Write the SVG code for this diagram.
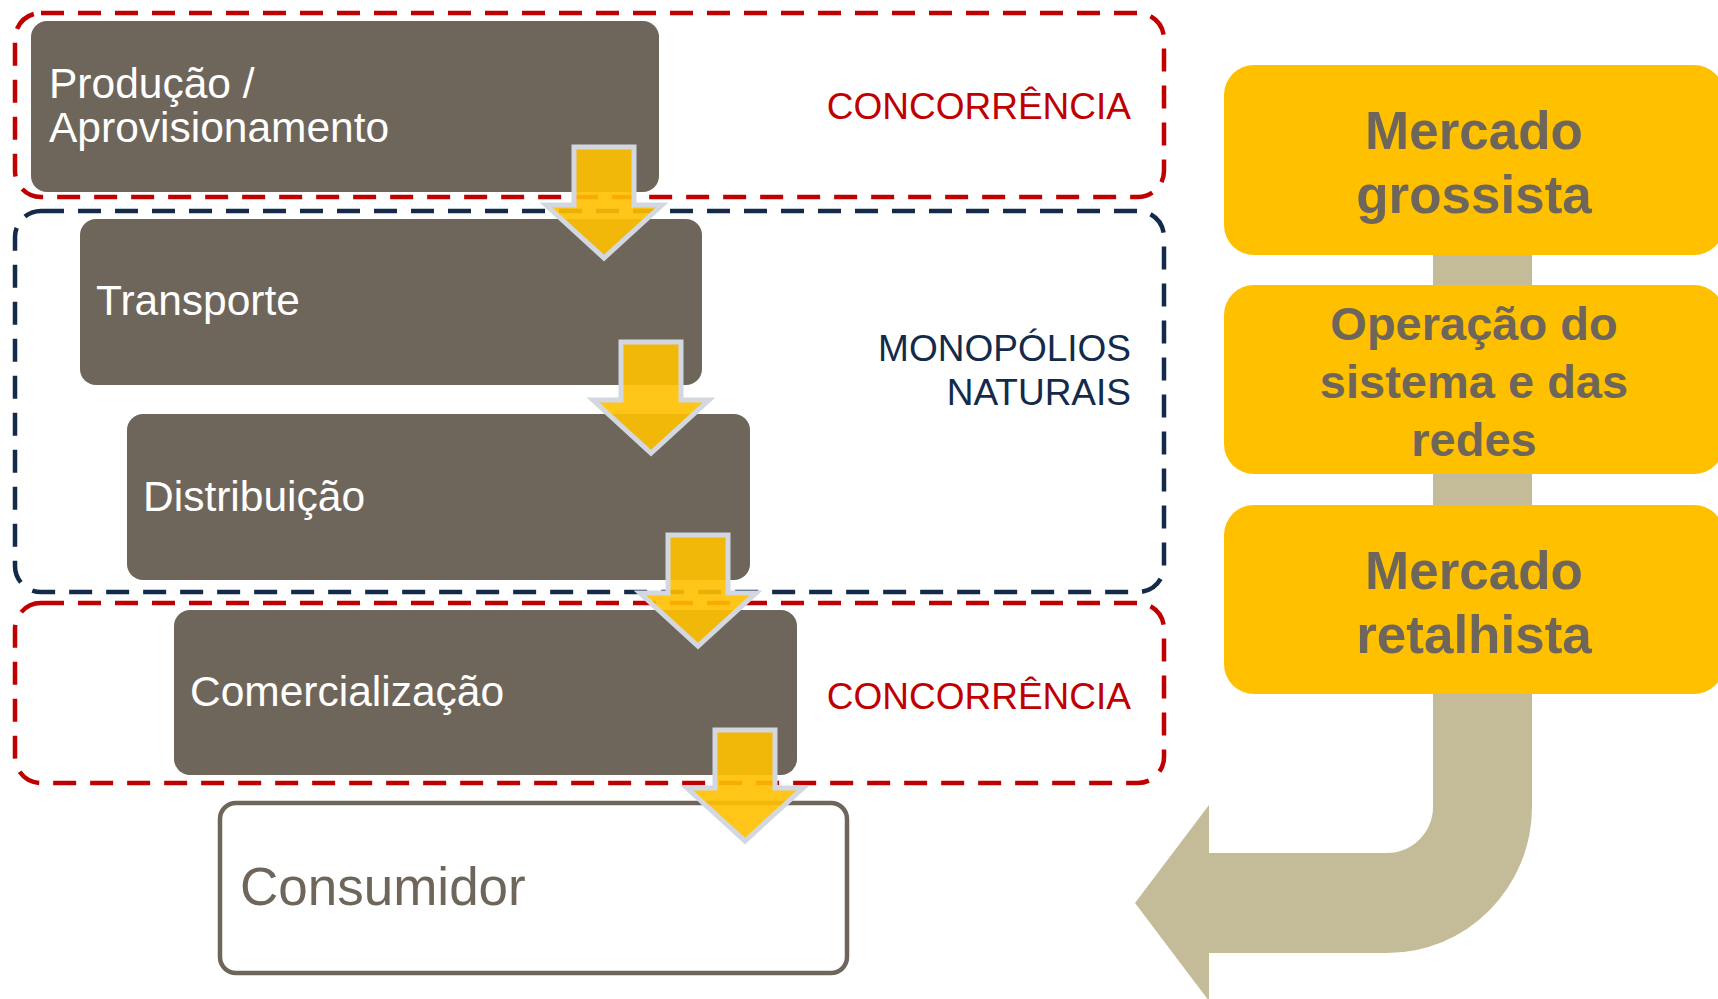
<svg xmlns="http://www.w3.org/2000/svg" width="1718" height="999" viewBox="0 0 1718 999">
<style>
.zone{fill:none;stroke-width:4.5;stroke-dasharray:23 14}
.red{stroke:#c00000}
.navy{stroke:#132a4a}
.step{fill:#6f665b}
.steptxt{font-family:"Liberation Sans",Arial,sans-serif;font-size:42.5px;fill:#ffffff}
.zonetxt{font-family:"Liberation Sans",Arial,sans-serif;font-size:37px;text-anchor:end}
.mk{fill:#ffc000}
.mktxt{font-family:"Liberation Sans",Arial,sans-serif;font-weight:bold;fill:#6f665b;text-anchor:middle}
.arr{fill:#ffc000;fill-opacity:0.9;stroke:#d3d8e0;stroke-width:5;stroke-linejoin:miter}
</style>
<defs>
<path id="down" d="M-30,-113 L30,-113 L30,-55 L58,-55 L0,-2 L-58,-55 L-30,-55 Z"/>
</defs>
<rect width="1718" height="999" fill="#ffffff"/>

<g id="zones">
<rect id="zone-concorrencia-1" class="zone red" x="15" y="13" width="1149" height="184" rx="26"/>
<rect id="zone-monopolios" class="zone navy" x="15" y="211" width="1149" height="381" rx="26"/>
<rect id="zone-concorrencia-2" class="zone red" x="15" y="603" width="1149" height="180" rx="26"/>
<text class="zonetxt" x="1131" y="119" fill="#c00000">CONCORRÊNCIA</text>
<text class="zonetxt" x="1131" y="361" fill="#132a4a">MONOPÓLIOS</text>
<text class="zonetxt" x="1131" y="405" fill="#132a4a">NATURAIS</text>
<text class="zonetxt" x="1131" y="709" fill="#c00000">CONCORRÊNCIA</text>
</g>

<g id="node-producao">
<rect class="step" x="31" y="21" width="628" height="171" rx="16"/>
<text class="steptxt" x="49" y="98">Produção /</text>
<text class="steptxt" x="49" y="142">Aprovisionamento</text>
</g>
<g id="node-transporte">
<rect class="step" x="80" y="219" width="622" height="166" rx="16"/>
<text class="steptxt" x="96" y="315">Transporte</text>
</g>
<g id="node-distribuicao">
<rect class="step" x="127" y="414" width="623" height="166" rx="16"/>
<text class="steptxt" x="143" y="511">Distribuição</text>
</g>
<g id="node-comercializacao">
<rect class="step" x="174" y="610" width="623" height="165" rx="16"/>
<text class="steptxt" x="190" y="706">Comercialização</text>
</g>
<g id="node-consumidor">
<rect x="220" y="803" width="627" height="170" rx="16" fill="#ffffff" stroke="#6f665b" stroke-width="4.5"/>
<text x="240" y="905" font-family="&quot;Liberation Sans&quot;, Arial, sans-serif" font-size="53" fill="#6f665b">Consumidor</text>
</g>

<g id="connectors">
<use href="#down" class="arr" transform="translate(604,260)"/>
<use href="#down" class="arr" transform="translate(651,455)"/>
<use href="#down" class="arr" transform="translate(698,648)"/>
<use href="#down" class="arr" transform="translate(745,843)"/>
<path id="bent-arrow" fill="#c4bc98" d="M1433,250 L1433,807 A46,46 0 0 1 1387,853 L1209,853 L1209,805 L1135,903 L1209,1001 L1209,953 L1387,953 A145,146 0 0 0 1532,807 L1532,250 Z"/>
</g>

<g id="node-mercado-grossista">
<rect class="mk" x="1224" y="65" width="500" height="190" rx="30"/>
<text class="mktxt" font-size="53" x="1474" y="149">Mercado</text>
<text class="mktxt" font-size="53" x="1474" y="213">grossista</text>
</g>
<g id="node-operacao">
<rect class="mk" x="1224" y="285" width="500" height="189" rx="30"/>
<text class="mktxt" font-size="47" x="1474" y="340">Operação do</text>
<text class="mktxt" font-size="47" x="1474" y="398">sistema e das</text>
<text class="mktxt" font-size="47" x="1474" y="456">redes</text>
</g>
<g id="node-mercado-retalhista">
<rect class="mk" x="1224" y="505" width="500" height="189" rx="30"/>
<text class="mktxt" font-size="53" x="1474" y="589">Mercado</text>
<text class="mktxt" font-size="53" x="1474" y="653">retalhista</text>
</g>
</svg>
